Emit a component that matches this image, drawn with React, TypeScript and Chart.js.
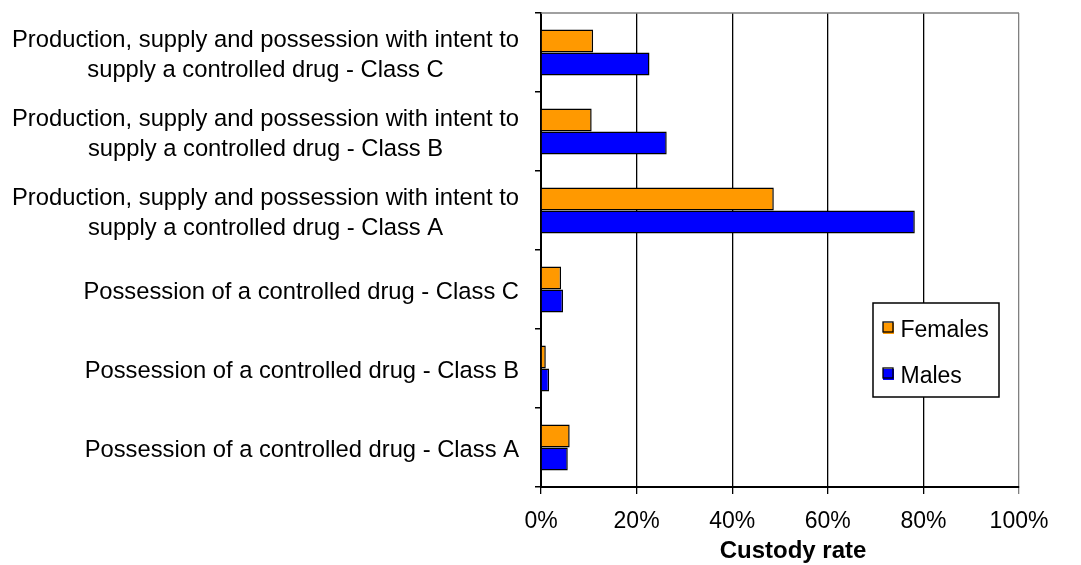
import React, { useEffect, useRef } from "react";
import { Chart, registerables } from "chart.js";

Chart.register(...registerables);

const categories: string[][] = [
  ["Production, supply and possession with intent to", "supply a controlled drug - Class C"],
  ["Production, supply and possession with intent to", "supply a controlled drug - Class B"],
  ["Production, supply and possession with intent to", "supply a controlled drug - Class A"],
  ["Possession of a controlled drug - Class C"],
  ["Possession of a controlled drug - Class B"],
  ["Possession of a controlled drug - Class A"],
];
const femalesValues = [10.9, 10.6, 48.7, 4.2, 1.0, 6.0];
const malesValues = [22.7, 26.3, 78.2, 4.6, 1.7, 5.6];
const xTicks = [0, 20, 40, 60, 80, 100];
const xTitle = "Custody rate";
const seriesNames = ["Females", "Males"];
const seriesColors = ["#FF9900", "#0000FF"];

const FONT = "'Liberation Sans', Arial, sans-serif";

const customPlugin = {
  id: "custom",
  afterDraw(chart: any) {
    const ctx = chart.ctx;
    const area = chart.chartArea;
    const yScale = chart.scales.y;
    ctx.save();
    // top border
    ctx.strokeStyle = "#808080";
    ctx.lineWidth = 1.5;
    ctx.beginPath();
    ctx.moveTo(area.left, area.top);
    ctx.lineTo(area.right, area.top);
    ctx.stroke();

    // y labels
    ctx.fillStyle = "#000";
    ctx.font = `23.75px ${FONT}`;
    ctx.textBaseline = "middle";
    ctx.textAlign = "center";
    const rightEdge = area.left - 22;
    const lineGap = 30;
    (chart.data.labels as string[][]).forEach((lines, i) => {
      const cy = yScale.getPixelForValue(i) + 3;
      const widths = lines.map((l) => ctx.measureText(l).width);
      const bw = Math.max(...widths);
      const cx = rightEdge - bw / 2;
      const n = lines.length;
      lines.forEach((l, j) => {
        const y = cy + (j - (n - 1) / 2) * lineGap;
        ctx.fillText(l, cx, y);
      });
    });

    // x title
    ctx.font = `bold 24px ${FONT}`;
    ctx.textAlign = "center";
    ctx.fillText(xTitle, 793, 551);

    // legend
    const lx = 873, ly = 303, lw = 126, lh = 94;
    ctx.fillStyle = "#fff";
    ctx.fillRect(lx, ly, lw, lh);
    ctx.strokeStyle = "#000";
    ctx.lineWidth = 1.5;
    ctx.strokeRect(lx, ly, lw, lh);
    ctx.font = `23px ${FONT}`;
    ctx.textAlign = "left";
    chart.data.datasets.forEach((ds: any, i: number) => {
      const my = ly + 19 + i * 46;
      ctx.fillStyle = ds.backgroundColor;
      ctx.fillRect(lx + 10, my + 1, 11, 11);
      ctx.strokeStyle = "#000";
      ctx.lineWidth = 1.3;
      ctx.strokeRect(lx + 10, my, 10, 10);
      ctx.fillStyle = "#000";
      ctx.fillText(ds.label, lx + 27.5, my + 8.5);
    });
    ctx.restore();
  },
};

export default function App() {
  const ref = useRef<HTMLCanvasElement>(null);
  useEffect(() => {
    if (!ref.current) return;
    const chart = new Chart(ref.current, {
      type: "bar",
      data: {
        labels: categories as any,
        datasets: [
          {
            label: seriesNames[0],
            data: femalesValues,
            backgroundColor: seriesColors[0],
            borderColor: "#000",
            borderWidth: 1.5,
            barPercentage: 1,
            categoryPercentage: 0.58,
          },
          {
            label: seriesNames[1],
            data: malesValues,
            backgroundColor: seriesColors[1],
            borderColor: "#000",
            borderWidth: 1.5,
            barPercentage: 1,
            categoryPercentage: 0.58,
          },
        ],
      },
      options: {
        indexAxis: "y",
        animation: false,
        responsive: true,
        maintainAspectRatio: false,
        layout: { padding: { top: 13, right: 62, left: 0, bottom: 0 } },
        plugins: { legend: { display: false }, tooltip: { enabled: false } },
        scales: {
          x: {
            min: 0,
            max: 100,
            afterBuildTicks: (scale: any) => {
              scale.ticks = xTicks.map((v) => ({ value: v }));
            },
            afterFit: (scale: any) => {
              scale.height = 78;
            },
            ticks: {
              callback: (v: any) => v + "%",
              color: "#000",
              font: { family: FONT, size: 23 },
              padding: 14,
              maxRotation: 0,
            },
            grid: {
              color: (c: any) => (c.tick && c.tick.value === 100 ? "#808080" : "#000"),
              lineWidth: 1.3,
              tickLength: 7,
              drawTicks: true,
            },
            border: { display: true, color: "#000", width: 2 },
          },
          y: {
            afterFit: (scale: any) => {
              scale.width = 541;
            },
            ticks: { display: false },
            grid: {
              drawOnChartArea: false,
              drawTicks: true,
              tickLength: 6,
              color: "#000",
              lineWidth: 1.5,
              offset: true,
            },
            border: { display: true, color: "#000", width: 2 },
          },
        },
      },
      plugins: [customPlugin],
    });
    return () => chart.destroy();
  }, []);
  return (
    <div style={{ position: "absolute", left: 0, top: 0, width: 1081, height: 565, background: "#fff" }}>
      <canvas ref={ref} />
    </div>
  );
}
